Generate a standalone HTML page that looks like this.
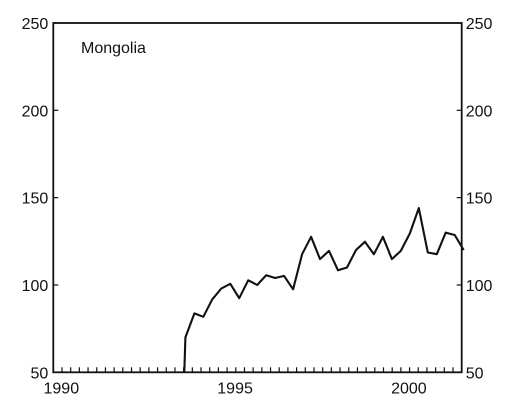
<!DOCTYPE html>
<html><head><meta charset="utf-8"><style>
body{margin:0;background:#fff;}
svg text{font-family:"Liberation Sans",Arial,sans-serif;fill:#111;}
</style></head><body>
<svg id="chart" width="512" height="409" viewBox="0 0 512 409" xmlns="http://www.w3.org/2000/svg"></svg>
<script>
const startYear = 1993.8;
const stepYears = 0.2583;
const values = [70,83.7,81.8,91.8,98,100.7,92.4,102.7,100,105.6,104,105.2,97.5,117.6,127.6,114.8,119.5,108.4,110,120,124.7,117.6,127.6,114.8,119.5,129.5,144,118.6,117.6,130,128.6,120];
const yTicks = [50,100,150,200,250];
const xTickLabels = [1990,1995,2000];
const baseValue = 50;

const L=53.3,R=461.7,T=23,B=372.3;
const x0=1990,x1=2001.75;
const X=t=>L+(t-x0)/(x1-x0)*(R-L);
const Y=v=>B-(v-50)/(250-50)*(B-T);
const svg=document.getElementById('chart');
const NS='http://www.w3.org/2000/svg';
function mk(tag,attrs){const e=document.createElementNS(NS,tag);for(const k in attrs)e.setAttribute(k,attrs[k]);svg.appendChild(e);return e;}

const frame=mk('rect',{x:L,y:T,width:R-L,height:B-T,fill:'none',stroke:'#111','stroke-width':1.8});



for(let q=1;q<47;q++){
  const t=mk('line',{x1:X(x0+q/4),x2:X(x0+q/4),y1:B,y2:B-5,stroke:'#111','stroke-width':1.2});
  
  
}
xTickLabels.forEach(yr=>{
  const t=mk('text',{x:X(yr)+8,y:B+21,'font-size':16,'text-anchor':'middle'});
  t.textContent=yr;
  
  
});
yTicks.forEach(v=>{
  const a=mk('line',{x1:L,x2:L+5,y1:Y(v),y2:Y(v),stroke:'#111','stroke-width':1.2});
  
  
  const b=mk('line',{x1:R-5,x2:R,y1:Y(v),y2:Y(v),stroke:'#111','stroke-width':1.2});
  
  
  const tl=mk('text',{x:L-5,y:Y(v)+6,'font-size':16,'text-anchor':'end'});
  tl.textContent=v;
  
  
  const tr=mk('text',{x:R+4,y:Y(v)+6,'font-size':16,'text-anchor':'start'});
  tr.textContent=v;
  
  
});

let d='M'+X(startYear-0.03).toFixed(1)+','+Y(baseValue).toFixed(1);
values.forEach((v,i)=>{d+=' L'+X(startYear+i*stepYears).toFixed(1)+','+Y(v).toFixed(1);});
const line=mk('path',{d:d,fill:'none',stroke:'#111','stroke-width':2.1,'stroke-linejoin':'round'});



const title=mk('text',{x:81,y:53,'font-size':16});
title.textContent='Mongolia';


</script>
</body></html>
